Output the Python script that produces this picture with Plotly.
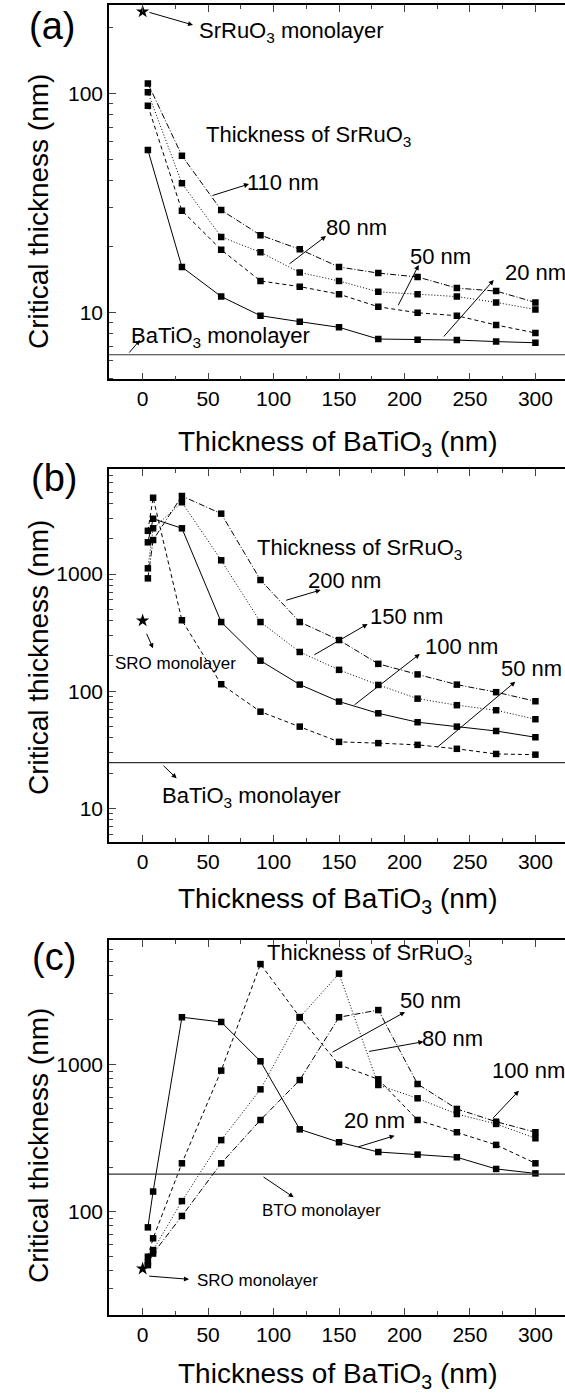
import plotly.graph_objects as go

W, H = 565, 1393
FONT = "Liberation Sans, Arial, sans-serif"

# ---------------- data ----------------
# Panel (a)
xa = [4, 30, 60, 90, 120, 150, 180, 210, 240, 270, 300]
a_20nm = [55.1, 16.1, 11.8, 9.65, 9.06, 8.54, 7.55, 7.5, 7.47, 7.35, 7.26]
a_50nm = [87.8, 29.1, 19.3, 13.9, 13.1, 12.1, 10.6, 9.95, 9.65, 8.75, 8.05]
a_80nm = [101, 38.8, 22.1, 18.8, 15.2, 13.9, 12.4, 12.1, 11.8, 11.1, 10.3]
a_110nm = [111, 51.9, 29.3, 22.5, 19.4, 16.1, 15.1, 14.5, 12.9, 12.5, 11.1]
a_sro_monolayer = 236
a_bto_monolayer = 6.4

# Panel (b)
xb = [4, 8, 30, 60, 90, 120, 150, 180, 210, 240, 270, 300]
b_50nm = [2337, 4480, 403, 114.6, 66.8, 49.8, 36.9, 36.0, 34.8, 32.2, 29.1, 28.7]
b_100nm = [1864, 2963, 2455, 389, 182, 113.8, 81.5, 64.7, 54.3, 49.8, 45.7, 40.4]
b_150nm = [1118, 2455, 4093, 1309, 389, 216, 152, 113, 86.3, 75.9, 68.7, 57.6]
b_200nm = [918, 1950, 4634, 3273, 889, 389, 273, 171, 139, 113.7, 98, 82]
b_sro_monolayer = 400
b_bto_monolayer = 24.5

# Panel (c)
xc = [4, 8, 30, 60, 90, 120, 150, 180, 210, 240, 270, 300]
c_20nm = [78.3, 137, 2086, 1937, 1048, 362, 296, 254, 244, 234, 195, 182]
c_50nm = [49.5, 66, 213, 906, 4786, 2090, 994, 791, 419, 346, 284, 213]
c_80nm = [45.1, 54.9, 118, 306, 676, 2080, 4120, 724, 588, 460, 394, 315]
c_100nm = [43.4, 52, 93.6, 213, 419, 782, 2086, 2333, 735, 498, 408, 346]
c_sro_monolayer = 41
c_bto_monolayer = 180

x_ticks = [0, 50, 100, 150, 200, 250, 300]

# ---------------- layout helpers ----------------
def px(x, y):
    return x / W, 1 - y / H

LEFT = 109
XR = [-25.7, 322.6]
panels = [
    # (top px, bottom px, log range)
    (4.7, 379.3, [0.6941, 2.4046]),
    (469.0, 841.7, [0.7149, 3.8963]),
    (940.0, 1315.0, [1.2992, 3.8433]),
]

fig = go.Figure()

DASH = {"solid": "solid", "dash": "4px,3px", "dot": "1px,2px", "dashdot": "6px,2px,1px,2px"}

def add_series(x, y, dash, ax_id, name):
    fig.add_trace(go.Scatter(
        x=x, y=y, mode="lines+markers", name=name,
        xaxis="x" + ax_id, yaxis="y" + ax_id,
        line=dict(color="black", width=1, dash=DASH[dash]),
        marker=dict(symbol="square", size=6.5, color="black"),
        showlegend=False))

def add_star(yv, ax_id):
    fig.add_trace(go.Scatter(
        x=[0], y=[yv], mode="markers", xaxis="x" + ax_id, yaxis="y" + ax_id,
        marker=dict(symbol="star", size=10, color="black"), showlegend=False))

add_series(xa, a_20nm, "solid", "", "20 nm")
add_series(xa, a_50nm, "dash", "", "50 nm")
add_series(xa, a_80nm, "dot", "", "80 nm")
add_series(xa, a_110nm, "dashdot", "", "110 nm")
add_star(a_sro_monolayer, "")

add_series(xb, b_50nm, "dash", "2", "50 nm")
add_series(xb, b_100nm, "solid", "2", "100 nm")
add_series(xb, b_150nm, "dot", "2", "150 nm")
add_series(xb, b_200nm, "dashdot", "2", "200 nm")
add_star(b_sro_monolayer, "2")

add_series(xc, c_20nm, "solid", "3", "20 nm")
add_series(xc, c_50nm, "dash", "3", "50 nm")
add_series(xc, c_80nm, "dot", "3", "80 nm")
add_series(xc, c_100nm, "dashdot", "3", "100 nm")
add_star(c_sro_monolayer, "3")

layout = dict(
    width=W, height=H, margin=dict(l=0, r=0, t=0, b=0),
    paper_bgcolor="white", plot_bgcolor="white",
    font=dict(family=FONT, size=21, color="black"),
    showlegend=False, template="none",
)

for i, (top, bot, yr) in enumerate(panels):
    sfx = "" if i == 0 else str(i + 1)
    ydom = [1 - bot / H, 1 - top / H]
    layout["xaxis" + sfx] = dict(
        domain=[LEFT / W, 1], range=XR, anchor="y" + sfx,
        tickvals=x_ticks, ticks="inside", ticklen=7, tickwidth=1.3,
        minor=dict(dtick=25, tick0=0, ticks="inside", ticklen=4, tickwidth=1.3, showgrid=False),
        showline=True, linecolor="black", linewidth=1.6, mirror="ticks",
        showgrid=False, zeroline=False, automargin=False,
        tickfont=dict(size=21, family=FONT))
    layout["yaxis" + sfx] = dict(
        domain=ydom, range=yr, type="log", anchor="x" + sfx,
        dtick=1, tick0=0, exponentformat="none",
        ticks="inside", ticklen=7, tickwidth=1.3,
        minor=dict(dtick="D1", ticks="inside", ticklen=4, tickwidth=1.3, showgrid=False),
        showline=True, linecolor="black", linewidth=1.6,
        showgrid=False, zeroline=False, automargin=False,
        tickfont=dict(size=21, family=FONT))

fig.update_layout(**layout)

# monolayer horizontal lines
for sfx, val in [("", a_bto_monolayer), ("2", b_bto_monolayer), ("3", c_bto_monolayer)]:
    fig.add_shape(type="line", xref="x" + sfx + " domain", yref="y" + sfx,
                  x0=0, x1=1, y0=val, y1=val, line=dict(color="#333333", width=1.2))

ann = []

def text(x, y, s, size=22, anchor="left"):
    xp, yp = px(x, y)
    ann.append(dict(x=xp, y=yp, xref="paper", yref="paper", text=s, showarrow=False,
                    xanchor=anchor, yanchor="middle", font=dict(size=size, family=FONT, color="black")))

def arrow(hx, hy, tx, ty):
    xp, yp = px(hx, hy)
    ann.append(dict(x=xp, y=yp, xref="paper", yref="paper", text="", showarrow=True,
                    ax=tx - hx, ay=ty - hy, arrowhead=2, arrowsize=1, arrowwidth=1,
                    arrowcolor="black", standoff=0))

def ytitle(x, y, s, size=28):
    xp, yp = px(x, y)
    ann.append(dict(x=xp, y=yp, xref="paper", yref="paper", text=s, showarrow=False,
                    textangle=-90, xanchor="center", yanchor="middle",
                    font=dict(size=size, family=FONT, color="black")))

XT = "Thickness of BaTiO<sub>3</sub> (nm)"
YT = "Critical thickness (nm)"
SRO = "Thickness of SrRuO<sub>3</sub>"

# panel (a)
text(52, 26, "(a)", 38, "center")
text(197, 32, "SrRuO<sub>3</sub> monolayer")
arrow(193, 25, 148, 12)
text(204, 136, SRO)
text(245, 182, "110 nm"); arrow(249, 184, 211, 196)
text(324, 227, "80 nm"); arrow(326, 236, 288, 265)
text(408, 256, "50 nm"); arrow(418.7, 265, 397.5, 306.7)
text(503, 272, "20 nm"); arrow(493.7, 280, 442.5, 338)
text(129, 337, "BaTiO<sub>3</sub> monolayer"); arrow(140, 340, 128, 354)
text(338, 443, XT, 28, "center")
ytitle(38, 212, YT)

# panel (b)
text(54, 478, "(b)", 38, "center")
text(255, 549, SRO)
text(306, 581, "200 nm"); arrow(320.7, 590, 284.7, 600.7)
text(367.6, 616.7, "150 nm"); arrow(367.6, 624, 312.8, 655.7)
text(423.4, 646.7, "100 nm"); arrow(419.8, 654, 353, 706)
text(499, 668.3, "50 nm"); arrow(515.3, 681.7, 436, 748.3)
text(113, 663.3, "SRO monolayer", 17); arrow(153, 648.3, 146, 632.3)
text(160, 797, "BaTiO<sub>3</sub> monolayer"); arrow(176.6, 778.3, 162, 764.3)
text(338, 900, XT, 28, "center")
ytitle(38, 658, YT)

# panel (c)
text(54, 957, "(c)", 38, "center")
text(265, 954, SRO)
text(397.5, 1000.7, "50 nm"); arrow(405, 1012, 331, 1053)
text(420, 1038, "80 nm"); arrow(423.4, 1041.7, 367.6, 1051.7)
text(490, 1070.7, "100 nm"); arrow(518.9, 1090.7, 491.9, 1119.3)
text(342, 1120, "20 nm"); arrow(394.6, 1135.7, 356.8, 1147.3)
text(260, 1210.7, "BTO monolayer", 17); arrow(293.7, 1197.3, 262, 1176)
text(194.6, 1280.7, "SRO monolayer", 17); arrow(189, 1279.3, 147.7, 1276)
text(338, 1375, XT, 28, "center")
ytitle(38, 1146, YT)

fig.update_layout(annotations=ann)
fig.write_html("out.html", config={"displayModeBar": False},
               post_script="document.body.style.margin='0';document.body.style.overflow='hidden';")
